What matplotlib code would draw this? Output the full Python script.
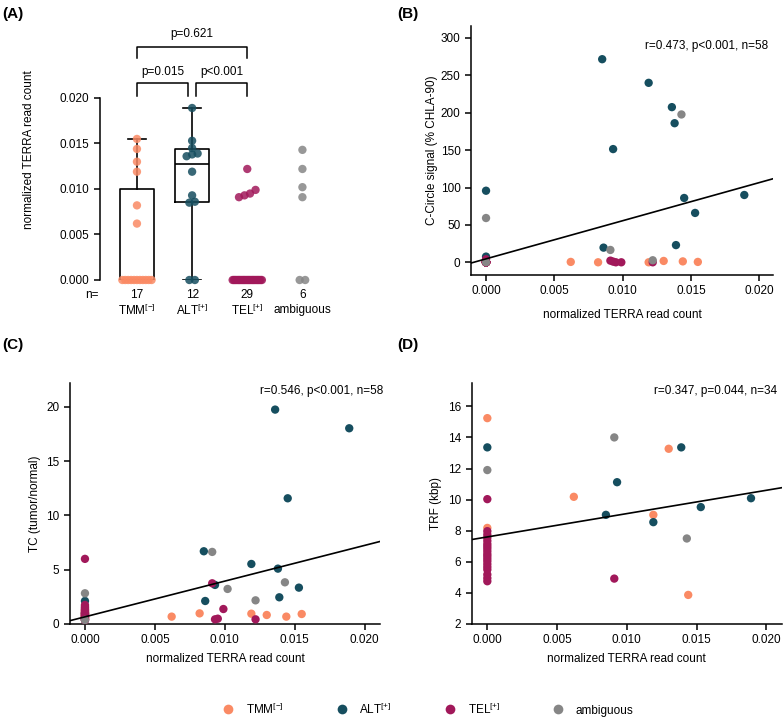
import numpy as np
import matplotlib
matplotlib.use("Agg")
import matplotlib.pyplot as plt
import matplotlib.transforms as mtransforms
from matplotlib.lines import Line2D
from matplotlib.ticker import FormatStrFormatter

plt.rcParams['font.family'] = ['Liberation Sans', 'DejaVu Sans']
plt.rcParams['mathtext.fontset'] = 'custom'
plt.rcParams['mathtext.rm'] = 'Liberation Sans'
plt.rcParams['mathtext.it'] = 'Liberation Sans:italic'
plt.rcParams['font.size'] = 8.5
plt.rcParams['axes.linewidth'] = 1.1

# groups
group_names = ["TMM", "ALT", "TEL", "ambiguous"]
group_labels = ["TMM$^{[-]}$", "ALT$^{[+]}$", "TEL$^{[+]}$", "ambiguous"]
group_colors = ["#FA8A64", "#164E5F", "#A1185A", "#868686"]
group_n = [17, 12, 29, 6]

# normalized TERRA read count per sample
terra_tmm = [0, 0, 0, 0, 0, 0, 0, 0, 0, 0, 0,
             0.0062, 0.0082, 0.0119, 0.0130, 0.0144, 0.0155]
terra_alt = [0, 0, 0.0085, 0.0086, 0.0093, 0.0119, 0.0136, 0.0138, 0.0139,
             0.0145, 0.0153, 0.0189]
terra_tel = [0, 0, 0, 0, 0, 0, 0, 0, 0, 0, 0, 0, 0, 0, 0, 0, 0, 0, 0, 0, 0, 0, 0, 0,
             0.0091, 0.0093, 0.0095, 0.0099, 0.0122]
terra_amb = [0, 0, 0.0091, 0.0102, 0.0122, 0.0143]

# C-Circle signal (% CHLA-90), same sample order
cc_tmm = [0, 0, 0, 0, 0, 0, 0, 0, 0, 0, 0, 0.5, 0, 0, 1.8, 1.2, 0.5]
cc_alt = [95.7, 7.6, 271.6, 19.6, 151.4, 240.0, 207.5, 186.0, 23.0, 86.0, 66.0, 90.0]
cc_tel = [4.0, 1.0, 0.5, 0, 0, 0, 0, 0, 0, 0, 0, 0, 0, 0, 0, 0, 0, 0, 0, 0, 0, 0, 0, 0,
          2.2, 0.9, 0, 0, 0]
cc_amb = [59.2, 0, 16.5, np.nan, 2.7, 197.7]

# TC (tumor/normal), same sample order
tc_tmm = [1.0, 0.8, 1.2, 0.6, 0.9, 1.1, 0.7, 1.3, 0.5, 1.0, 0.8,
          0.68, 0.98, 0.95, 0.83, 0.68, 0.92]
tc_alt = [2.12, 1.0, 6.70, 2.12, 3.6, 5.53, 19.75, 5.10, 2.46, 11.58, 3.35, 18.03]
tc_tel = [6.0, 1.75, 1.6, 1.5, 1.4, 1.3, 1.2, 1.1, 1.0, 0.95, 0.9, 0.85, 0.8, 0.75,
          0.7, 0.65, 0.6, 0.55, 0.5, 0.45, 0.4, 0.4, 0.37, 0.37,
          3.75, 0.43, 0.49, 1.38, 0.43]
tc_amb = [2.83, 0.37, 6.64, 3.23, 2.18, 3.84]

# TRF (kbp), subset of samples
trf_terra_tmm = [0, 0, 0.0062, 0.0119, 0.0130, 0.0144]
trf_tmm = [15.24, 8.18, 10.18, 9.02, 13.27, 3.87]
trf_terra_alt = [0, 0.0085, 0.0093, 0.0119, 0.0139, 0.0153, 0.0189]
trf_alt = [13.36, 9.02, 11.12, 8.55, 13.36, 9.52, 10.09]
trf_terra_tel = [0, 0, 0, 0, 0, 0, 0, 0, 0, 0, 0, 0, 0, 0, 0, 0, 0, 0, 0, 0.0091]
trf_tel = [10.03, 7.97, 7.75, 7.55, 7.35, 7.15, 7.0, 6.85, 6.68, 6.5, 6.36, 6.2,
           6.04, 5.85, 5.67, 5.5, 5.18, 4.95, 4.75, 4.92]
trf_terra_amb = [0, 0.0091, 0.0143]
trf_amb = [11.9, 14.0, 7.5]

# regression lines (intercept, slope) and stats text
fit_b = (4.6, 5100.0)
fit_c = (0.66, 329.0)
fit_d = (7.6, 150.0)
stat_b = "r=0.473, p<0.001, n=58"
stat_c = "r=0.546, p<0.001, n=58"
stat_d = "r=0.347, p=0.044, n=34"

# pairwise tests in panel A: (group i, group j, label)
tests = [(0, 1, "p=0.015"), (1, 2, "p<0.001"), (0, 2, "p=0.621")]

W, H = 784, 718
fig = plt.figure(figsize=(W / 100, H / 100), dpi=100)


def px_axes(left, right, bottom, top):
    return fig.add_axes([left / W, 1 - bottom / H, (right - left) / W, (bottom - top) / H])


def strip_offsets(vals, dy=0.0006, dx=0.1, max_w=0.53):
    vals = np.asarray(vals, dtype=float)
    order = np.argsort(vals, kind="stable")
    offs = np.zeros(len(vals))
    clusters, cur = [], [order[0]]
    for a, b in zip(order[:-1], order[1:]):
        if vals[b] - vals[a] < dy:
            cur.append(b)
        else:
            clusters.append(cur)
            cur = [b]
    clusters.append(cur)
    for c in clusters:
        n = len(c)
        if n < 2:
            continue
        step = min(dx, max_w / (n - 1))
        for k, idx in enumerate(c):
            offs[idx] = (k - (n - 1) / 2) * step
    return offs


def style_scatter_axes(ax):
    for s in ["top", "right"]:
        ax.spines[s].set_visible(False)
    ax.tick_params(length=4, width=1.1, labelsize=8.5)
    ax.xaxis.set_major_formatter(FormatStrFormatter("%.3f"))
    ax.set_xticks([0, 0.005, 0.010, 0.015, 0.020])


# ---------- panel A ----------
axA = px_axes(100, 330, 280, 20)
terra_groups = [terra_tmm, terra_alt, terra_tel, terra_amb]

stats = []
for vals in terra_groups[:2]:
    v = np.asarray(vals)
    q1, med, q3 = np.percentile(v, [25, 50, 75], method="weibull")
    stats.append(dict(med=med, q1=q1, q3=q3, whislo=v.min(), whishi=v.max(), fliers=[]))
axA.bxp(stats, positions=[0, 1], widths=0.62, showfliers=False, capwidths=0.33,
        boxprops=dict(color="black", lw=1.2), whiskerprops=dict(color="black", lw=1.2),
        capprops=dict(color="black", lw=1.2), medianprops=dict(color="black", lw=1.2),
        zorder=1)

for i, vals in enumerate(terra_groups):
    offs = strip_offsets(vals)
    axA.scatter(i + offs, vals, s=36, color=group_colors[i], alpha=0.85,
                edgecolors="none", zorder=3, clip_on=False)

axA.set_xlim(-0.67, 3.5)
axA.set_ylim(0, 0.02857)
axA.spines["left"].set_bounds(0, 0.02)
for s in ["top", "right", "bottom"]:
    axA.spines[s].set_visible(False)
axA.set_yticks([0, 0.005, 0.010, 0.015, 0.020])
axA.yaxis.set_major_formatter(FormatStrFormatter("%.3f"))
axA.tick_params(axis="y", length=4, width=1.1)
axA.tick_params(axis="x", bottom=False, labelbottom=False)
axA.set_ylabel("normalized TERRA read count", labelpad=18)

# brackets
for gi, gj, lab in tests:
    if gj - gi == 1:
        x1 = gi if gi == 0 else gi + 0.07
        x2 = gj - 0.07 if gi == 0 else gj
        ytop, ybot, ytxt = 0.02165, 0.0202, 0.02286
    else:
        x1, x2 = gi, gj
        ytop, ybot, ytxt = 0.0256, 0.0244, 0.0270
    axA.plot([x1, x1, x2, x2], [ybot, ytop, ytop, ybot], color="black", lw=1.1,
             clip_on=False)
    axA.text((x1 + x2) / 2, ytxt, lab, ha="center", va="center")

trans = mtransforms.blended_transform_factory(axA.transData, axA.transAxes)
axA.text(-0.82, -0.0577, "n=", transform=trans, ha="center", va="center")
for i in range(4):
    axA.text(i, -0.0577, str(group_n[i]), transform=trans, ha="center", va="center")
    axA.text(i, -0.1154, group_labels[i], transform=trans, ha="center", va="center")

# ---------- panels B, C, D ----------
def scatter_panel(ax, xs, ys, fit, stat, ylabel, ylabel_pad, xlabel_pad):
    for i in range(4):
        ax.scatter(xs[i], ys[i], s=36, color=group_colors[i], edgecolors="none",
                   zorder=3, clip_on=False)
    ax.axline((0, fit[0]), slope=fit[1], color="black", lw=1.2, zorder=4)
    style_scatter_axes(ax)
    ax.set_xlabel("normalized TERRA read count", labelpad=xlabel_pad)
    ax.set_ylabel(ylabel, labelpad=ylabel_pad)
    ax.text(0.99, 0.93, stat, transform=ax.transAxes, ha="right", va="center")


axB = px_axes(471, 773, 275, 26)
scatter_panel(axB, terra_groups, [cc_tmm, cc_alt, cc_tel, cc_amb], fit_b, stat_b,
              "C-Circle signal (% CHLA-90)", 2, 8)
axB.set_xlim(-0.0011, 0.021)
axB.set_ylim(-17, 316)
axB.set_yticks([0, 50, 100, 150, 200, 250, 300])
axB.texts[-1].set_position((0.985, 0.92))

axC = px_axes(70, 380, 624, 383)
scatter_panel(axC, terra_groups, [tc_tmm, tc_alt, tc_tel, tc_amb], fit_c, stat_c,
              "TC (tumor/normal)", 4, 5)
axC.set_xlim(-0.00107, 0.0211)
axC.set_ylim(0, 22.2)
axC.set_yticks([0, 5, 10, 15, 20])
axC.texts[-1].set_position((1.01, 0.965))

axD = px_axes(471.7, 781.7, 624, 383)
scatter_panel(axD, [trf_terra_tmm, trf_terra_alt, trf_terra_tel, trf_terra_amb],
              [trf_tmm, trf_alt, trf_tel, trf_amb], fit_d, stat_d, "TRF (kbp)", 4, 5)
axD.set_xlim(-0.00112, 0.0211)
axD.set_ylim(2, 17.5)
axD.set_yticks([2, 4, 6, 8, 10, 12, 14, 16])
axD.texts[-1].set_position((0.985, 0.965))

# panel letters
for lab, xp, yp in [("(A)", 2, 14), ("(B)", 397, 14), ("(C)", 2, 345), ("(D)", 397, 345)]:
    fig.text(xp / W, 1 - yp / H, lab, fontsize=11, fontweight="bold", ha="left", va="center")

# legend
handles = [Line2D([], [], marker="o", ls="", color=c, markersize=7, markeredgewidth=0)
           for c in group_colors]
fig.legend(handles, group_labels, loc="center", bbox_to_anchor=(428 / W, 1 - 709 / H),
           ncol=4, frameon=False, handlelength=1.0, handletextpad=1.0, columnspacing=4.4,
           fontsize=8.5)

fig.savefig("out.png", dpi=100)
